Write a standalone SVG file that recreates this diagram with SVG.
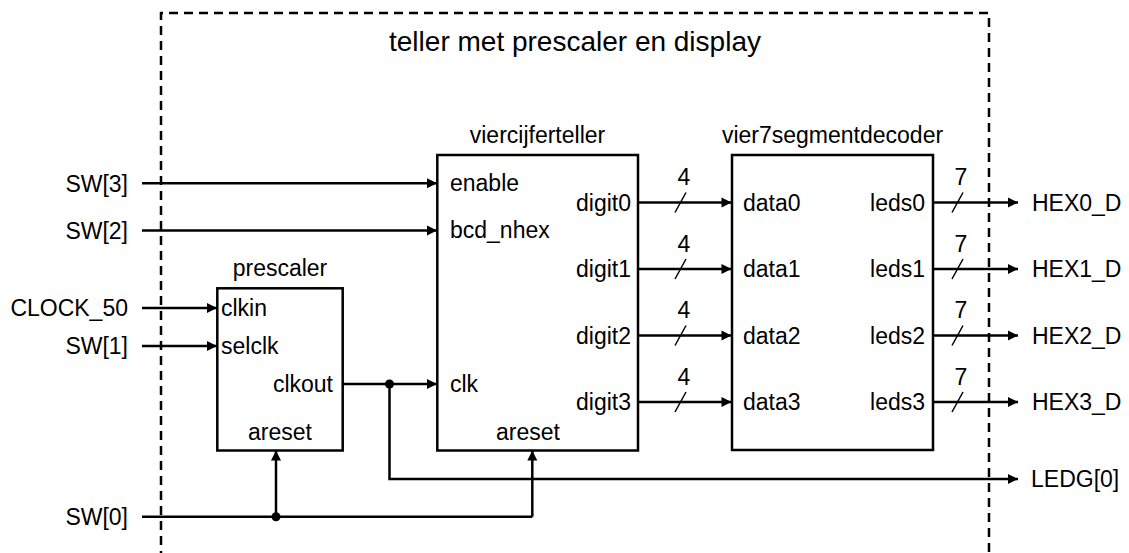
<svg xmlns="http://www.w3.org/2000/svg" width="1129" height="553" viewBox="0 0 1129 553">
<defs>
<marker id="arr" markerUnits="userSpaceOnUse" markerWidth="12" markerHeight="12" viewBox="0 0 12 12" refX="11" refY="6" orient="auto">
<path d="M1,1 L11,6 L1,11 Z" fill="#000"/>
</marker>
<style>
text{font-family:"Liberation Sans",Arial,sans-serif;font-size:23px;fill:#000}
.t{font-size:28px}
.box{fill:#fff;stroke:#000;stroke-width:2.5}
.w{fill:none;stroke:#000;stroke-width:2.5}
.a{marker-end:url(#arr)}
.s{fill:none;stroke:#000;stroke-width:1.5}
.m{text-anchor:middle}
.e{text-anchor:end}
.d{fill:none;stroke:#000;stroke-width:2.5;stroke-dasharray:9 6}
</style>
</defs>
<rect width="1129" height="553" fill="#fff"/>
<g id="boundary">
<path class="d" d="M161,560 V13 H989 V560"/>
<text class="t m" x="575" y="51">teller met prescaler en display</text>
</g>
<g id="connectors">
<path class="w a" d="M142,183.3 H437"/>
<path class="w a" d="M142,230.5 H437"/>
<path class="w a" d="M142,308 H217"/>
<path class="w a" d="M142,346 H217"/>
<path class="w a" d="M342,384 H437"/>
<path class="w a" d="M389.5,384 V479 H1018"/>
<path class="w" d="M142,516.7 H532.3"/>
<path class="w a" d="M276,516.7 V450.5"/>
<path class="w a" d="M532.3,516.7 V450.5"/>
<circle cx="389.5" cy="384" r="4.5"/>
<circle cx="276" cy="516.7" r="4.5"/>
<path class="w a" d="M637.5,202.5 H731.5"/>
<path class="w a" d="M637.5,269 H731.5"/>
<path class="w a" d="M637.5,335.5 H731.5"/>
<path class="w a" d="M637.5,402 H731.5"/>
<path class="s" d="M675,212.5 L686,192.5 M675,279 L686,259 M675,345.5 L686,325.5 M675,412 L686,392"/>
<text class="m" x="684" y="185">4</text>
<text class="m" x="684" y="251.5">4</text>
<text class="m" x="684" y="318">4</text>
<text class="m" x="684" y="384.5">4</text>
<path class="w a" d="M933,202.5 H1018"/>
<path class="w a" d="M933,269 H1018"/>
<path class="w a" d="M933,335.5 H1018"/>
<path class="w a" d="M933,402 H1018"/>
<path class="s" d="M952,212.5 L963,192.5 M952,279 L963,259 M952,345.5 L963,325.5 M952,412 L963,392"/>
<text class="m" x="961" y="185">7</text>
<text class="m" x="961" y="251.5">7</text>
<text class="m" x="961" y="318">7</text>
<text class="m" x="961" y="384.5">7</text>
</g>
<g id="inputs">
<text class="e" x="128" y="191.5">SW[3]</text>
<text class="e" x="128" y="238.5">SW[2]</text>
<text class="e" x="128" y="316">CLOCK_50</text>
<text class="e" x="128" y="354">SW[1]</text>
<text class="e" x="128" y="524.5">SW[0]</text>
</g>
<g id="outputs">
<text x="1032" y="210.5">HEX0_D</text>
<text x="1032" y="277">HEX1_D</text>
<text x="1032" y="343.5">HEX2_D</text>
<text x="1032" y="410">HEX3_D</text>
<text x="1031" y="487">LEDG[0]</text>
</g>
<g id="prescaler">
<rect class="box" x="217.3" y="288.3" width="125.4" height="162.2"/>
<text class="m" x="280" y="276">prescaler</text>
<text x="221" y="316">clkin</text>
<text x="221" y="354">selclk</text>
<text class="e" x="333" y="392">clkout</text>
<text class="m" x="280" y="440">areset</text>
</g>
<g id="viercijferteller">
<rect class="box" x="437.3" y="155" width="200.7" height="295.5"/>
<text class="m" x="537.5" y="143">viercijferteller</text>
<text x="450" y="191">enable</text>
<text x="450" y="238">bcd_nhex</text>
<text x="450" y="392">clk</text>
<text class="e" x="631" y="210.5">digit0</text>
<text class="e" x="631" y="277">digit1</text>
<text class="e" x="631" y="343.5">digit2</text>
<text class="e" x="631" y="410">digit3</text>
<text class="m" x="528" y="440">areset</text>
</g>
<g id="vier7segmentdecoder">
<rect class="box" x="732" y="155" width="201" height="295"/>
<text class="m" x="832.5" y="143">vier7segmentdecoder</text>
<text x="743" y="210.5">data0</text>
<text x="743" y="277">data1</text>
<text x="743" y="343.5">data2</text>
<text x="743" y="410">data3</text>
<text class="e" x="925" y="210.5">leds0</text>
<text class="e" x="925" y="277">leds1</text>
<text class="e" x="925" y="343.5">leds2</text>
<text class="e" x="925" y="410">leds3</text>
</g>
</svg>
